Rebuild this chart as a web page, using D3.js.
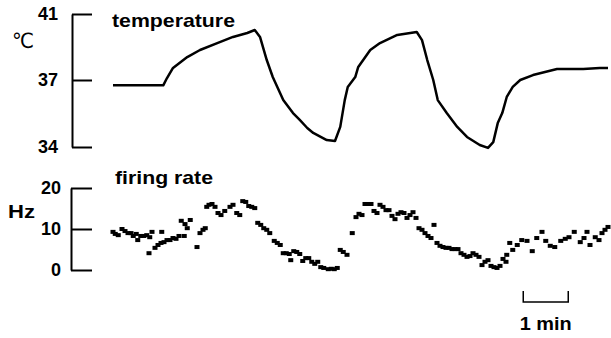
<!DOCTYPE html>
<html>
<head>
<meta charset="utf-8">
<script src="https://d3js.org/d3.v7.min.js"></script>
<style>
  body { margin: 0; background: #fff; }
  text { font-family: "Liberation Sans", Arial, sans-serif; font-weight: bold; fill: #000; }
</style>
</head>
<body>
<svg id="chart" width="611" height="338"></svg>
<script>

// time in seconds, temperature in degC
var tempTime = [0, 67, 72, 80, 99, 116, 139, 160, 179, 189, 196, 205, 213, 227, 240, 249, 259, 267, 285, 296,
  303, 309, 313, 323, 327, 343, 356, 379, 405, 412, 419, 427, 433, 445, 459, 472, 489, 500,
  507, 513, 519, 525, 533, 543, 560, 592, 627, 649, 660];
var tempValue = [36.76, 36.76, 37.12, 37.73, 38.39, 38.82, 39.24, 39.61, 39.85, 40.03, 39.61, 38.21, 37.18, 36.10, 35.52, 35.21, 34.85, 34.63, 34.31, 34.27,
  34.90, 36.10, 36.69, 37.18, 37.79, 38.82, 39.24, 39.73, 39.91, 39.42, 38.21, 37.0, 36.10, 35.52, 34.90, 34.45, 34.09, 33.96,
  34.22, 35.07, 35.52, 36.24, 36.69, 37.0, 37.30, 37.67, 37.67, 37.73, 37.73];

// firing rate samples: time in seconds, rate in Hz
var rateTime = [0, 3, 7, 12, 16, 20, 24, 27, 31, 33, 37, 41, 45, 49, 52, 48, 56, 60, 64, 65, 68, 72, 76, 80, 84, 88, 91, 95, 96, 99, 103, 112, 116, 120, 123, 125,
  128, 132, 136, 140, 144, 149, 156, 160, 165, 169, 173, 177, 181, 185, 189, 193, 197, 201, 205, 209, 215, 219, 223, 227, 231, 235, 237, 241, 245, 249, 253, 257, 261,
  265, 269, 273, 277, 281, 287, 291, 295, 299, 303, 307, 312, 319, 324, 328, 332, 336, 340, 344, 348, 352, 356, 360, 364, 368, 372, 376, 380, 384, 388, 392, 396, 400, 404,
  408, 412, 416, 420, 424, 428, 432, 436, 440, 444, 448, 452, 456, 460, 464, 468, 472, 476, 480, 484, 488, 492, 496, 500, 504, 508, 512, 516, 520, 524,
  525, 529, 533, 539, 545, 552, 559, 565, 572, 577, 583, 589, 597, 603, 608, 615, 623, 628, 632, 636, 643, 648, 652, 656, 660];
var rateValue = [9.3, 8.8, 8.5, 10.0, 9.5, 9.0, 9.0, 8.3, 8.8, 7.3, 8.3, 8.3, 8.5, 8.0, 9.3, 4.1, 5.4, 6.1, 6.6, 9.3, 6.8, 7.3, 7.3, 7.8, 7.6, 8.3, 12.0, 8.3, 11.2, 10.2, 12.2, 5.6, 9.0, 9.8, 10.2, 15.4,
  15.9, 16.1, 15.4, 13.9, 13.4, 14.4, 15.4, 15.9, 13.9, 13.4, 16.8, 16.6, 15.6, 15.4, 15.1, 11.5, 11.0, 10.2, 9.8, 9.0, 7.1, 6.6, 6.1, 4.1, 4.1, 3.9, 2.4, 4.6, 4.4, 3.9, 2.2, 2.9, 2.9,
  2.0, 1.5, 2.0, 0.7, 0.5, 0.2, 0.3, 0.2, 0.5, 4.9, 4.4, 3.7, 9.0, 12.9, 13.7, 13.4, 16.1, 16.1, 16.1, 14.4, 13.9, 15.9, 15.4, 14.6, 14.6, 13.2, 12.4, 13.7, 14.1, 13.9, 12.7, 13.4, 14.1, 12.7,
  10.2, 9.8, 9.0, 8.3, 7.8, 11.0, 6.6, 5.9, 5.6, 5.4, 5.4, 5.1, 5.1, 5.1, 4.1, 3.7, 3.2, 3.4, 4.1, 3.7, 3.2, 1.2, 2.0, 2.4, 1.0, 0.7, 0.5, 1.0, 2.7, 2.0,
  3.7, 6.6, 4.9, 6.1, 7.3, 7.1, 4.6, 7.8, 9.3, 7.1, 5.9, 5.6, 7.1, 7.6, 8.0, 9.3, 6.8, 7.8, 9.3, 6.1, 8.0, 7.3, 9.0, 9.8, 10.5];

var tempTicks = [34, 37, 41];
var rateTicks = [0, 10, 20];
var scaleBar = [547, 607];   // one minute

var svg = d3.select("#chart");

var x = d3.scaleLinear()
    .domain([0, 660])
    .range([113, 608]);

// the printed temperature axis is not evenly spaced
var yTemp = d3.scaleLinear()
    .domain([34, 37, 41])
    .range([147, 80, 14]);

var yRate = d3.scaleLinear()
    .domain([0, 20])
    .range([270, 188]);

// temperature axis
var gt = svg.append("g")
    .attr("transform", "translate(72,0)")
    .call(d3.axisLeft(yTemp).tickValues(tempTicks).tickFormat(d3.format("d"))
      .tickSizeInner(-20).tickSizeOuter(0).tickPadding(14));
gt.selectAll("path, line").attr("stroke", "#000").attr("stroke-width", 2);
gt.selectAll("text").attr("font-size", 18).attr("font-family", null).attr("fill", null);

svg.append("text")
    .attr("x", 12)
    .attr("y", 48)
    .attr("font-size", 21)
    .style("font-family", "'DejaVu Sans', sans-serif")
    .style("font-weight", "normal")
    .attr("textLength", 22)
    .attr("lengthAdjust", "spacingAndGlyphs")
    .text("℃");

svg.append("text")
    .attr("x", 112)
    .attr("y", 27)
    .attr("font-size", 19)
    .attr("textLength", 123)
    .attr("lengthAdjust", "spacingAndGlyphs")
    .text("temperature");

var tempLine = d3.line()
    .x(function(d, i) { return x(tempTime[i]); })
    .y(function(d) { return yTemp(d); });

svg.append("path")
    .datum(tempValue)
    .attr("fill", "none")
    .attr("stroke", "#000")
    .attr("stroke-width", 2.5)
    .attr("stroke-linejoin", "round")
    .attr("d", tempLine);

// firing rate axis
var gr = svg.append("g")
    .attr("transform", "translate(71,0)")
    .call(d3.axisLeft(yRate).tickValues(rateTicks).tickFormat(d3.format("d"))
      .tickSizeInner(-21).tickSizeOuter(0).tickPadding(10));
gr.selectAll("path, line").attr("stroke", "#000").attr("stroke-width", 2);
gr.selectAll("text").attr("font-size", 18).attr("font-family", null).attr("fill", null);

svg.append("text")
    .attr("x", 8)
    .attr("y", 218)
    .attr("font-size", 19)
    .attr("textLength", 27)
    .attr("lengthAdjust", "spacingAndGlyphs")
    .text("Hz");

svg.append("text")
    .attr("x", 115)
    .attr("y", 184)
    .attr("font-size", 19)
    .attr("textLength", 98)
    .attr("lengthAdjust", "spacingAndGlyphs")
    .text("firing rate");

svg.append("g")
  .selectAll("rect")
  .data(rateValue)
  .enter().append("rect")
    .attr("x", function(d, i) { return x(rateTime[i]) - 2.5; })
    .attr("y", function(d) { return yRate(d) - 2; })
    .attr("width", 5)
    .attr("height", 4)
    .attr("fill", "#000");

// 1 min scale bar
var bar = d3.path();
bar.moveTo(x(scaleBar[0]), 291);
bar.lineTo(x(scaleBar[0]), 302);
bar.lineTo(x(scaleBar[1]), 302);
bar.lineTo(x(scaleBar[1]), 291);
svg.append("path")
    .attr("d", bar.toString())
    .attr("fill", "none")
    .attr("stroke", "#000")
    .attr("stroke-width", 1.5);

svg.append("text")
    .attr("x", (x(scaleBar[0]) + x(scaleBar[1])) / 2)
    .attr("y", 330)
    .attr("text-anchor", "middle")
    .attr("font-size", 18)
    .attr("textLength", 52)
    .attr("lengthAdjust", "spacingAndGlyphs")
    .text("1 min");

</script>
</body>
</html>
